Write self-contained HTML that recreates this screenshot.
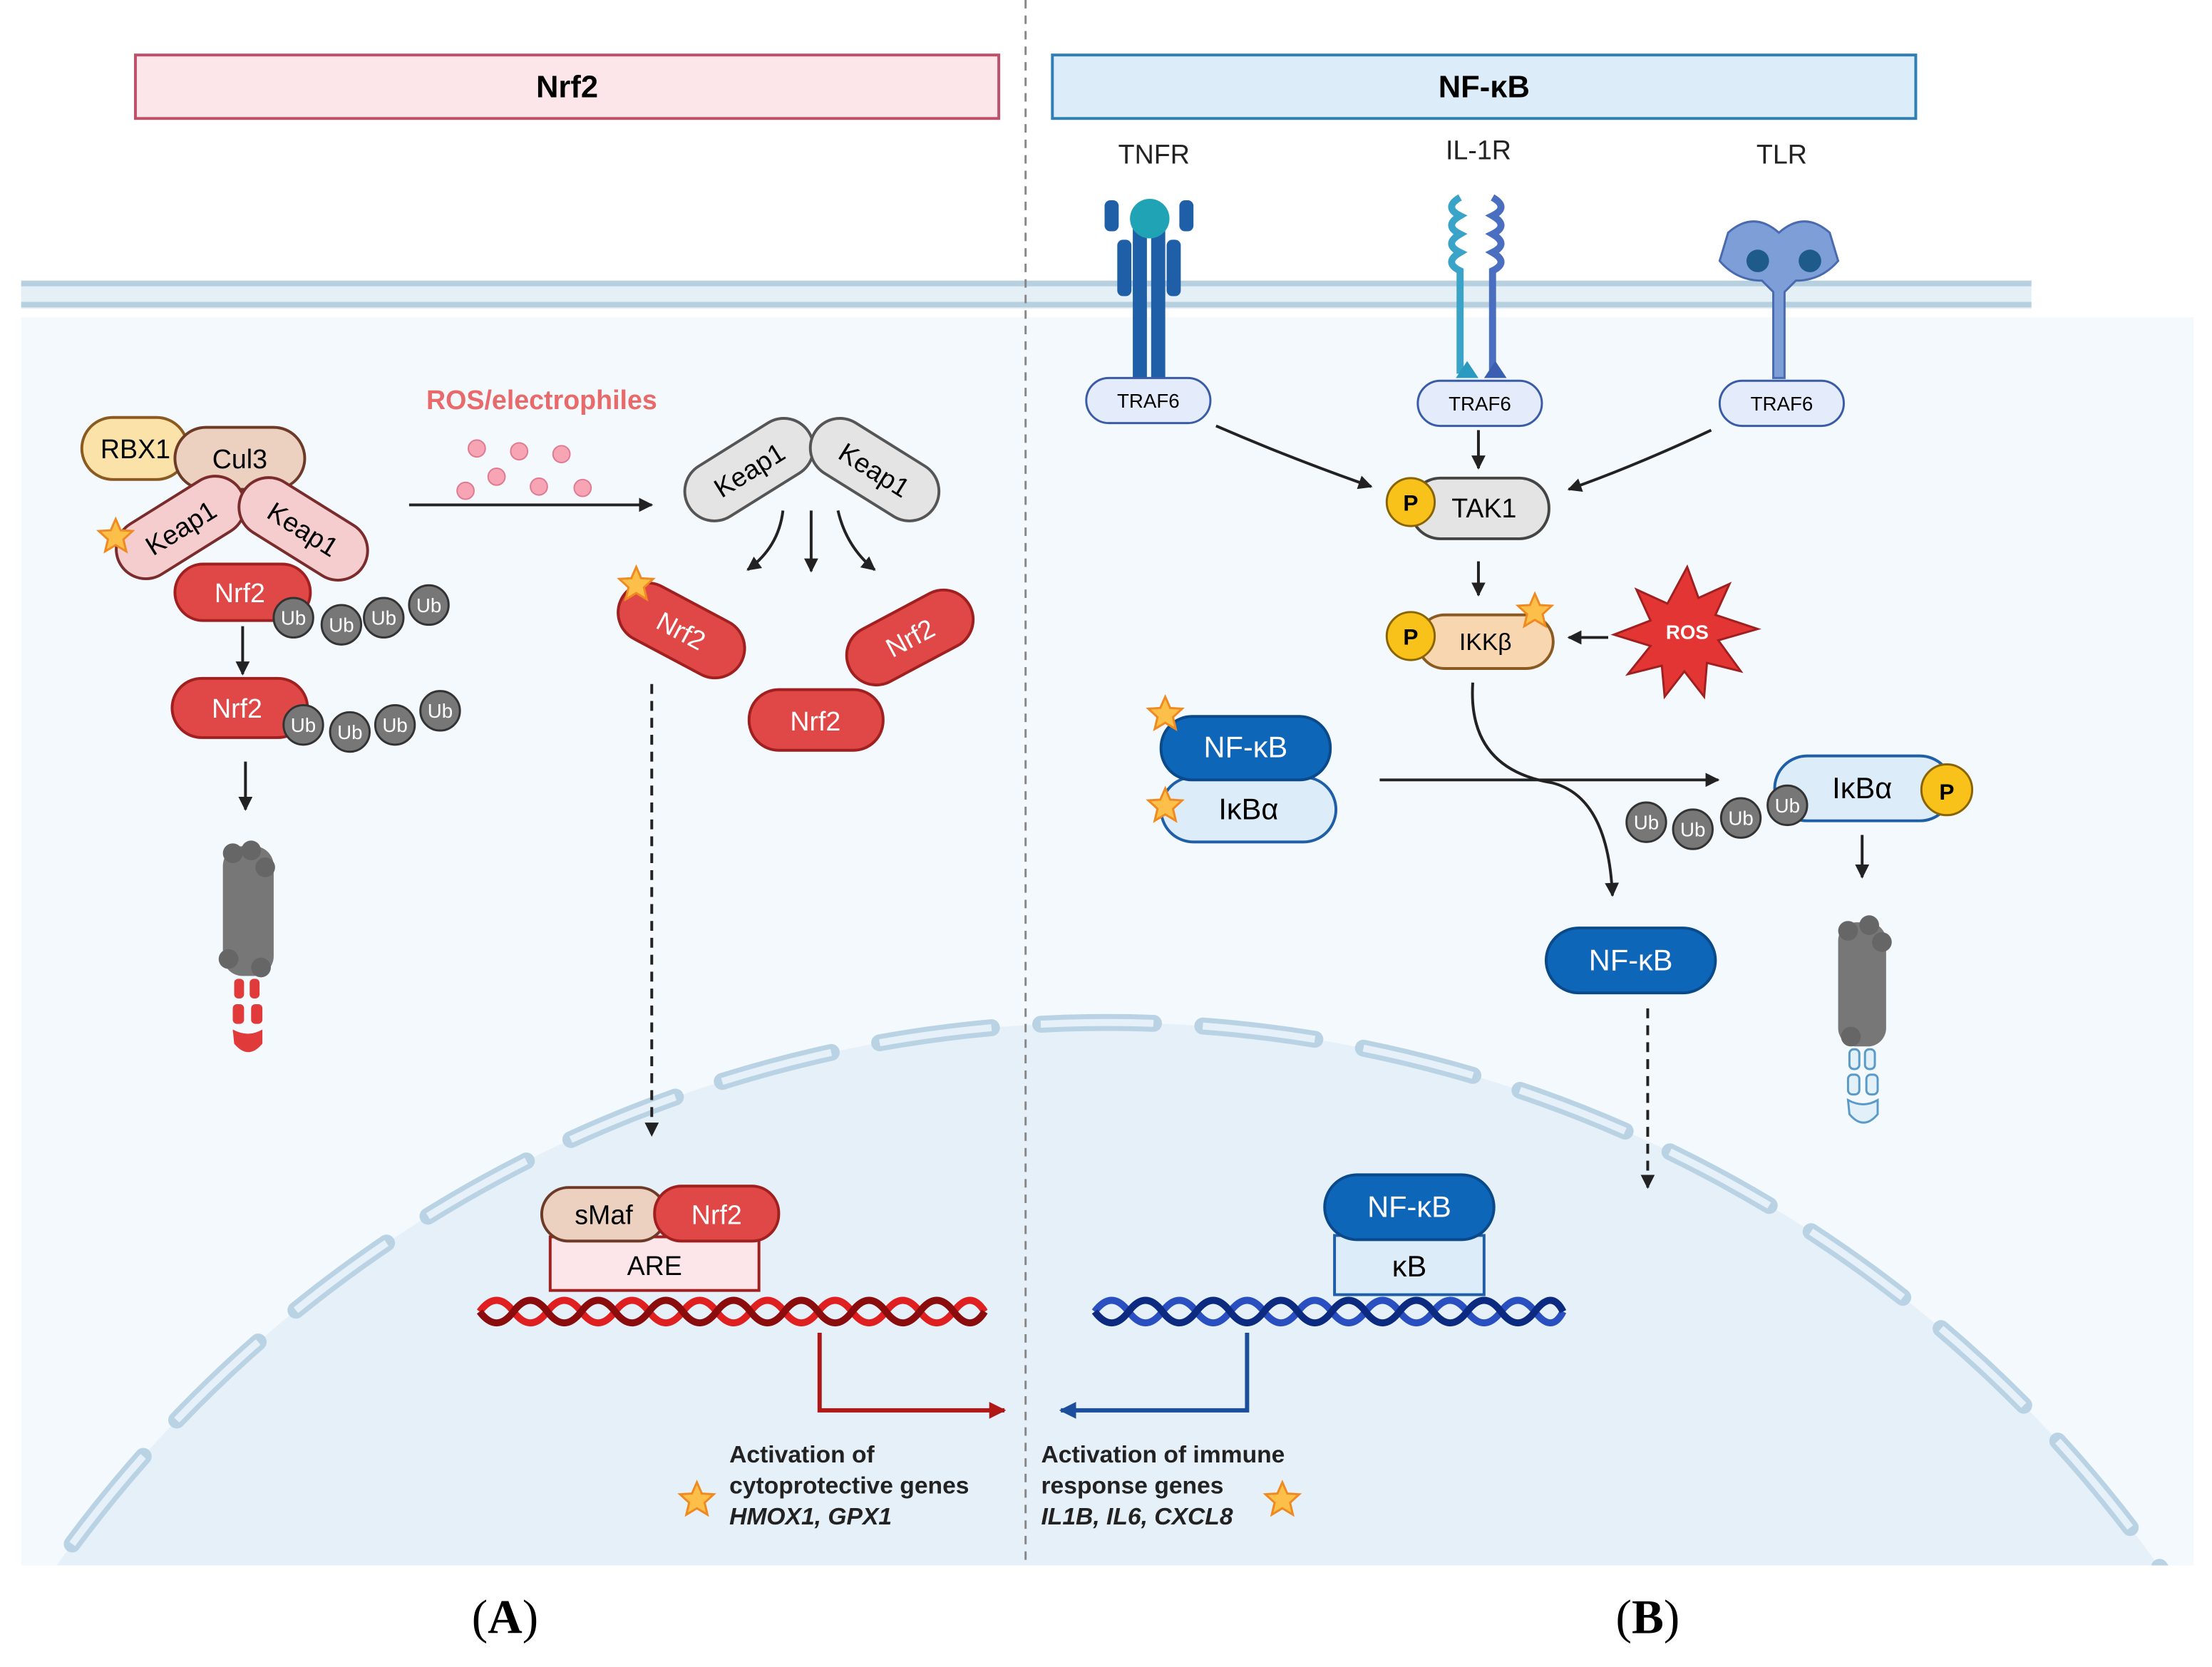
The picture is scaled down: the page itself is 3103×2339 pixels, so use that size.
<!DOCTYPE html>
<html><head><meta charset="utf-8"><style>
html,body{margin:0;padding:0;background:#fff;width:3103px;height:2339px;overflow:hidden}
svg{display:block}
text{font-family:"Liberation Sans",sans-serif}
</style></head><body>
<svg width="3103" height="2339" viewBox="0 0 1568 1182" preserveAspectRatio="none" xmlns="http://www.w3.org/2000/svg">
<defs>
<marker id="ah" viewBox="0 0 10 10" refX="9" refY="5" markerWidth="5" markerHeight="5" orient="auto"><path d="M0,0L10,5L0,10z" fill="#222"/></marker>
<marker id="ahr" viewBox="0 0 10 10" refX="9" refY="5" markerWidth="4" markerHeight="4" orient="auto"><path d="M0,0L10,5L0,10z" fill="#b01818"/></marker>
<marker id="ahb" viewBox="0 0 10 10" refX="9" refY="5" markerWidth="4" markerHeight="4" orient="auto"><path d="M0,0L10,5L0,10z" fill="#1b4f9c"/></marker>
<clipPath id="cell"><rect x="15" y="225" width="1540" height="885"/></clipPath>
<g id="star"><path d="M0,-12 L3.5,-4 L12,-3.5 L5.5,2.5 L7.5,11 L0,6.5 L-7.5,11 L-5.5,2.5 L-12,-3.5 L-3.5,-4z" fill="#fbbf4a" stroke="#f08a20" stroke-width="1.5"/></g>
<g id="ub"><circle r="14" fill="#777" stroke="#333" stroke-width="1.5"/><text y="5" text-anchor="middle" font-size="14" fill="#fff">Ub</text></g>
</defs>
<rect width="1568" height="1182" fill="#fff"/>
<rect x="15" y="225" width="1540" height="885" fill="#f3f9fd"/>
<g clip-path="url(#cell)">
<circle cx="785" cy="1638" r="913" fill="#e6f0f9"/>
<circle cx="785" cy="1638" r="913" fill="none" stroke="#b9d3e4" stroke-width="12" stroke-dasharray="80 35" stroke-linecap="round"/>
<circle cx="785" cy="1638" r="913" fill="none" stroke="#e6f0f9" stroke-width="5" stroke-dasharray="80 35"/>
</g>
<rect x="15" y="199" width="1425" height="20" fill="#e4eff6"/>
<line x1="15" y1="201" x2="1440" y2="201" stroke="#b6d0e0" stroke-width="4"/>
<line x1="15" y1="216" x2="1440" y2="216" stroke="#b6d0e0" stroke-width="4"/>
<line x1="727" y1="0" x2="727" y2="1110" stroke="#888" stroke-width="1.5" stroke-dasharray="6 5"/>
<rect x="96" y="39" width="612" height="45" fill="#fde6ea" stroke="#c0506a" stroke-width="2"/>
<text x="402" y="69" text-anchor="middle" font-size="22" font-weight="bold">Nrf2</text>
<rect x="746" y="39" width="612" height="45" fill="#dcecf9" stroke="#2f7fb5" stroke-width="2"/>
<text x="1052" y="69" text-anchor="middle" font-size="22" font-weight="bold">NF-κB</text>

<rect x="58" y="296" width="75" height="44" rx="22" fill="#fbe2a8" stroke="#8a5a20" stroke-width="2"/>
<text x="96" y="325" text-anchor="middle" font-size="19">RBX1</text>
<rect x="124" y="303" width="92" height="44" rx="22" fill="#ecd0c0" stroke="#6e3a28" stroke-width="2"/>
<text x="170" y="332" text-anchor="middle" font-size="19">Cul3</text>
<g transform="translate(128,374) rotate(-32)"><rect x="-50" y="-21" width="100" height="42" rx="21" fill="#f6cdcf" stroke="#7a2b2b" stroke-width="2"/><text y="7" text-anchor="middle" font-size="19">Keap1</text></g>
<g transform="translate(215,375) rotate(32)"><rect x="-50" y="-21" width="100" height="42" rx="21" fill="#f6cdcf" stroke="#7a2b2b" stroke-width="2"/><text y="7" text-anchor="middle" font-size="19">Keap1</text></g>
<use href="#star" x="82" y="380"/>
<rect x="124" y="400" width="96" height="40" rx="20" fill="#e04848" stroke="#a01f1f" stroke-width="2"/>
<text x="170" y="427" text-anchor="middle" font-size="19" fill="#fff">Nrf2</text>
<use href="#ub" x="208" y="438"/><use href="#ub" x="242" y="443"/><use href="#ub" x="272" y="438"/><use href="#ub" x="304" y="429"/>
<line x1="172" y1="444" x2="172" y2="478" stroke="#222" stroke-width="2" marker-end="url(#ah)"/>
<rect x="122" y="481" width="96" height="42" rx="21" fill="#e04848" stroke="#a01f1f" stroke-width="2"/>
<text x="168" y="509" text-anchor="middle" font-size="19" fill="#fff">Nrf2</text>
<use href="#ub" x="215" y="514"/><use href="#ub" x="248" y="519"/><use href="#ub" x="280" y="514"/><use href="#ub" x="312" y="504"/>
<line x1="174" y1="540" x2="174" y2="574" stroke="#222" stroke-width="2" marker-end="url(#ah)"/>
<rect x="158" y="600" width="36" height="92" rx="14" fill="#777"/>
<g fill="#666"><circle cx="165" cy="605" r="7"/><circle cx="178" cy="603" r="7"/><circle cx="188" cy="615" r="7"/><circle cx="162" cy="680" r="7"/><circle cx="185" cy="686" r="7"/></g>
<g fill="#e03a3a"><rect x="166" y="694" width="7" height="14" rx="3"/><rect x="177" y="694" width="7" height="14" rx="3"/><rect x="165" y="712" width="8" height="14" rx="3"/><rect x="178" y="712" width="8" height="14" rx="3"/><path d="M165,730 Q176,736 186,730 L186,740 Q176,752 166,740z"/></g>

<text x="384" y="290" text-anchor="middle" font-size="19" font-weight="bold" fill="#e86a6a">ROS/electrophiles</text>
<g fill="#f7a5b5" stroke="#e07a90"><circle cx="338" cy="318" r="6"/><circle cx="368" cy="320" r="6"/><circle cx="398" cy="322" r="6"/><circle cx="352" cy="338" r="6"/><circle cx="330" cy="348" r="6"/><circle cx="382" cy="345" r="6"/><circle cx="413" cy="346" r="6"/></g>
<line x1="290" y1="358" x2="462" y2="358" stroke="#222" stroke-width="2" marker-end="url(#ah)"/>
<g transform="translate(531,333) rotate(-32)"><rect x="-50" y="-21" width="100" height="42" rx="21" fill="#e4e4e4" stroke="#555" stroke-width="2"/><text y="7" text-anchor="middle" font-size="19">Keap1</text></g>
<g transform="translate(620,333) rotate(32)"><rect x="-50" y="-21" width="100" height="42" rx="21" fill="#e4e4e4" stroke="#555" stroke-width="2"/><text y="7" text-anchor="middle" font-size="19">Keap1</text></g>
<path d="M555,362 Q552,388 530,404" fill="none" stroke="#222" stroke-width="2" marker-end="url(#ah)"/>
<line x1="575" y1="362" x2="575" y2="405" stroke="#222" stroke-width="2" marker-end="url(#ah)"/>
<path d="M594,362 Q600,388 620,404" fill="none" stroke="#222" stroke-width="2" marker-end="url(#ah)"/>
<g transform="translate(483,447) rotate(28)"><rect x="-48" y="-21" width="96" height="42" rx="21" fill="#e04848" stroke="#a01f1f" stroke-width="2"/><text y="7" text-anchor="middle" font-size="19" fill="#fff">Nrf2</text></g>
<use href="#star" x="451" y="414"/>
<g transform="translate(645,452) rotate(-28)"><rect x="-48" y="-21" width="96" height="42" rx="21" fill="#e04848" stroke="#a01f1f" stroke-width="2"/><text y="7" text-anchor="middle" font-size="19" fill="#fff">Nrf2</text></g>
<rect x="531" y="489" width="95" height="43" rx="21" fill="#e04848" stroke="#a01f1f" stroke-width="2"/>
<text x="578" y="518" text-anchor="middle" font-size="19" fill="#fff">Nrf2</text>
<line x1="462" y1="485" x2="462" y2="805" stroke="#222" stroke-width="2" stroke-dasharray="7 5" marker-end="url(#ah)"/>

<rect x="390" y="877" width="148" height="38" fill="#fde6ea" stroke="#a01f1f" stroke-width="2"/>
<text x="464" y="904" text-anchor="middle" font-size="19">ARE</text>
<rect x="384" y="842" width="88" height="38" rx="19" fill="#ecd0c0" stroke="#6e3a28" stroke-width="2"/>
<text x="428" y="868" text-anchor="middle" font-size="19">sMaf</text>
<rect x="464" y="841" width="88" height="39" rx="19" fill="#e04848" stroke="#a01f1f" stroke-width="2"/>
<text x="508" y="868" text-anchor="middle" font-size="19" fill="#fff">Nrf2</text>
<path d="M340,930 q12,-16 24,0 t24,0 t24,0 t24,0 t24,0 t24,0 t24,0 t24,0 t24,0 t24,0 t24,0 t24,0 t24,0 t24,0 t22,0" fill="none" stroke="#e02020" stroke-width="5"/>
<path d="M340,930 q12,16 24,0 t24,0 t24,0 t24,0 t24,0 t24,0 t24,0 t24,0 t24,0 t24,0 t24,0 t24,0 t24,0 t24,0 t22,0" fill="none" stroke="#8a0c0c" stroke-width="5"/>
<path d="M581,945 V1000 H712" fill="none" stroke="#b01818" stroke-width="3" marker-end="url(#ahr)"/>
<text x="517" y="1037" font-size="17" font-weight="bold" fill="#222">Activation of</text>
<text x="517" y="1059" font-size="17" font-weight="bold" fill="#222">cytoprotective genes</text>
<text x="517" y="1081" font-size="17" font-weight="bold" font-style="italic" fill="#222">HMOX1, GPX1</text>
<use href="#star" x="494" y="1063"/>

<text x="818" y="116" text-anchor="middle" font-size="19" fill="#222">TNFR</text>
<text x="1048" y="113" text-anchor="middle" font-size="19" fill="#222">IL-1R</text>
<text x="1263" y="116" text-anchor="middle" font-size="19" fill="#222">TLR</text>
<g fill="#1f5fa8">
<rect x="783" y="142" width="10" height="22" rx="4"/><rect x="836" y="142" width="10" height="22" rx="4"/>
<rect x="803" y="160" width="10" height="110"/><rect x="816" y="160" width="10" height="110"/>
<rect x="792" y="170" width="10" height="40" rx="4"/><rect x="827" y="170" width="10" height="40" rx="4"/>
</g>
<circle cx="815" cy="155" r="14" fill="#1fa3b5"/>
<path d="M1035,140 q-12,7 0,13 q-12,7 0,13 q-12,7 0,13 q-12,7 0,13 V265" fill="none" stroke="#3aa3c8" stroke-width="5"/>
<path d="M1058,140 q12,7 0,13 q12,7 0,13 q12,7 0,13 q12,7 0,13 V265" fill="none" stroke="#4a6fc0" stroke-width="5"/>
<path d="M1032,268 l8,-12 l8,12z" fill="#2a9ac0"/><path d="M1052,268 l8,-12 l8,12z" fill="#3a5fb0"/>
<path d="M1225,165 q18,-16 36,0 q18,-16 36,0 l6,20 q-12,14 -30,14 l-8,8 V268 h-8 V207 l-8,-8 q-18,0 -30,-14z" fill="#7d9ed6" stroke="#4a6ab0" stroke-width="1.5"/>
<circle cx="1246" cy="185" r="8" fill="#1e5a8a"/><circle cx="1283" cy="185" r="8" fill="#1e5a8a"/>
<g font-size="14" text-anchor="middle">
<rect x="770" y="268" width="88" height="32" rx="16" fill="#e4ecfb" stroke="#3a5ba8" stroke-width="1.5"/><text x="814" y="289">TRAF6</text>
<rect x="1005" y="270" width="88" height="32" rx="16" fill="#e4ecfb" stroke="#3a5ba8" stroke-width="1.5"/><text x="1049" y="291">TRAF6</text>
<rect x="1219" y="270" width="88" height="32" rx="16" fill="#e4ecfb" stroke="#3a5ba8" stroke-width="1.5"/><text x="1263" y="291">TRAF6</text>
</g>
<path d="M862,302 Q915,325 972,345" fill="none" stroke="#222" stroke-width="2" marker-end="url(#ah)"/>
<line x1="1048" y1="305" x2="1048" y2="332" stroke="#222" stroke-width="2" marker-end="url(#ah)"/>
<path d="M1213,305 Q1160,330 1112,347" fill="none" stroke="#222" stroke-width="2" marker-end="url(#ah)"/>
<rect x="1000" y="339" width="98" height="43" rx="21" fill="#e4e4e4" stroke="#444" stroke-width="2"/>
<text x="1052" y="367" text-anchor="middle" font-size="19">TAK1</text>
<circle cx="1000" cy="356" r="17" fill="#f8c21a" stroke="#8a6400" stroke-width="1.5"/><text x="1000" y="362" text-anchor="middle" font-size="16" font-weight="bold">P</text>
<line x1="1048" y1="398" x2="1048" y2="422" stroke="#222" stroke-width="2" marker-end="url(#ah)"/>
<rect x="1005" y="436" width="96" height="38" rx="19" fill="#f8d7b0" stroke="#8a5a20" stroke-width="2"/>
<text x="1053" y="461" text-anchor="middle" font-size="17">IKKβ</text>
<circle cx="1000" cy="451" r="17" fill="#f8c21a" stroke="#8a6400" stroke-width="1.5"/><text x="1000" y="457" text-anchor="middle" font-size="16" font-weight="bold">P</text>
<use href="#star" x="1088" y="433"/>
<line x1="1140" y1="452" x2="1112" y2="452" stroke="#222" stroke-width="2" marker-end="url(#ah)"/>
<path d="M1196,402 l8,22 l22,-10 l-10,22 l30,10 l-28,8 l16,22 l-24,-6 l-2,24 l-14,-18 l-14,18 l-2,-22 l-24,6 l16,-20 l-26,-8 l26,-10 l-10,-22 l22,10z" fill="#e43535" stroke="#a01f1f" stroke-width="1.5"/>
<text x="1196" y="453" text-anchor="middle" font-size="14" font-weight="bold" fill="#fff">ROS</text>
<rect x="823" y="551" width="124" height="46" rx="23" fill="#dcecf9" stroke="#1f5fa8" stroke-width="2"/>
<text x="885" y="581" text-anchor="middle" font-size="21">IκBα</text>
<rect x="823" y="508" width="120" height="45" rx="22" fill="#0e66b8" stroke="#0a4a8a" stroke-width="2"/>
<text x="883" y="537" text-anchor="middle" font-size="21" fill="#fff">NF-κB</text>
<use href="#star" x="826" y="506"/><use href="#star" x="826" y="571"/>
<line x1="978" y1="553" x2="1218" y2="553" stroke="#222" stroke-width="2" marker-end="url(#ah)"/>
<path d="M1044,484 Q1040,545 1100,555 Q1140,565 1143,635" fill="none" stroke="#222" stroke-width="2" marker-end="url(#ah)"/>
<rect x="1258" y="536" width="126" height="46" rx="23" fill="#dcecf9" stroke="#1f5fa8" stroke-width="2"/>
<text x="1320" y="566" text-anchor="middle" font-size="21">IκBα</text>
<circle cx="1380" cy="560" r="18" fill="#f8c21a" stroke="#8a6400" stroke-width="1.5"/><text x="1380" y="567" text-anchor="middle" font-size="16" font-weight="bold">P</text>
<use href="#ub" x="1167" y="583"/><use href="#ub" x="1200" y="588"/><use href="#ub" x="1234" y="580"/><use href="#ub" x="1267" y="571"/>
<line x1="1320" y1="592" x2="1320" y2="622" stroke="#222" stroke-width="2" marker-end="url(#ah)"/>
<rect x="1303" y="654" width="34" height="88" rx="13" fill="#777"/>
<g fill="#666"><circle cx="1310" cy="660" r="7"/><circle cx="1325" cy="656" r="7"/><circle cx="1334" cy="668" r="7"/><circle cx="1312" cy="735" r="7"/></g>
<g fill="#e2f0fa" stroke="#5a9ac8" stroke-width="1.5"><rect x="1311" y="744" width="7" height="14" rx="3"/><rect x="1322" y="744" width="7" height="14" rx="3"/><rect x="1310" y="762" width="8" height="14" rx="3"/><rect x="1323" y="762" width="8" height="14" rx="3"/><path d="M1310,780 Q1321,786 1331,780 L1331,790 Q1321,802 1311,790z"/></g>
<rect x="1096" y="658" width="120" height="46" rx="23" fill="#0e66b8" stroke="#0a4a8a" stroke-width="2"/>
<text x="1156" y="688" text-anchor="middle" font-size="21" fill="#fff">NF-κB</text>
<line x1="1168" y1="715" x2="1168" y2="842" stroke="#222" stroke-width="2" stroke-dasharray="7 5" marker-end="url(#ah)"/>
<rect x="946" y="876" width="106" height="42" fill="#dcecf9" stroke="#1f5fa8" stroke-width="2"/>
<text x="999" y="905" text-anchor="middle" font-size="21">κB</text>
<rect x="939" y="833" width="120" height="46" rx="23" fill="#0e66b8" stroke="#0a4a8a" stroke-width="2"/>
<text x="999" y="863" text-anchor="middle" font-size="21" fill="#fff">NF-κB</text>
<path d="M776,930 q12,-16 24,0 t24,0 t24,0 t24,0 t24,0 t24,0 t24,0 t24,0 t24,0 t24,0 t24,0 t24,0 t24,0 t20,0" fill="none" stroke="#2a4fc0" stroke-width="5"/>
<path d="M776,930 q12,16 24,0 t24,0 t24,0 t24,0 t24,0 t24,0 t24,0 t24,0 t24,0 t24,0 t24,0 t24,0 t24,0 t20,0" fill="none" stroke="#0c2a80" stroke-width="5"/>
<path d="M884,945 V1000 H752" fill="none" stroke="#1b4f9c" stroke-width="3" marker-end="url(#ahb)"/>
<text x="738" y="1037" font-size="17" font-weight="bold" fill="#222">Activation of immune</text>
<text x="738" y="1059" font-size="17" font-weight="bold" fill="#222">response genes</text>
<text x="738" y="1081" font-size="17" font-weight="bold" font-style="italic" fill="#222">IL1B, IL6, CXCL8</text>
<use href="#star" x="909" y="1063"/>

<text x="358" y="1158" text-anchor="middle" font-size="34" style="font-family:'Liberation Serif',serif">(<tspan font-weight="bold">A</tspan>)</text>
<text x="1168" y="1158" text-anchor="middle" font-size="34" style="font-family:'Liberation Serif',serif">(<tspan font-weight="bold">B</tspan>)</text>
</svg>
</body></html>
